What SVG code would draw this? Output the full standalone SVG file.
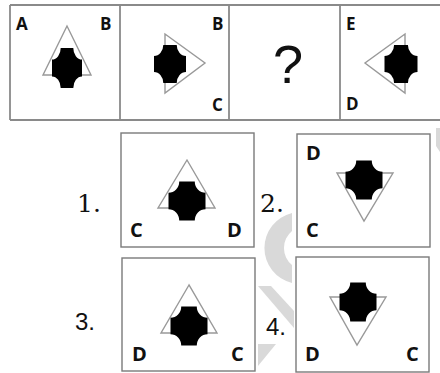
<svg xmlns="http://www.w3.org/2000/svg" width="440" height="373" viewBox="0 0 440 373">
<defs>
<path id="cross" d="M-0.42,-1 L0.42,-1 A0.58,0.58 0 0 0 1,-0.42 L1,0.42 A0.58,0.58 0 0 0 0.42,1 L-0.42,1 A0.58,0.58 0 0 0 -1,0.42 L-1,-0.42 A0.58,0.58 0 0 0 -0.42,-1 Z"/>
</defs>
<style>
.frame{fill:none;stroke:#8a8a8a;stroke-width:1.8}
.box{fill:#fff;stroke:#7a7a7a;stroke-width:1.4}
.tri{fill:none;stroke:#999;stroke-width:1.4;stroke-linejoin:miter}
.cr{fill:#000}
.lbl{font-family:"Open Sans","Liberation Sans",sans-serif;font-weight:700;fill:#111}
.top{font-size:17px}
.opt{font-size:20px}
.numS{font-family:"DejaVu Serif","Liberation Serif",serif;font-size:25px;fill:#111}
.numA{font-family:"Liberation Sans",Arial,sans-serif;font-size:24px;fill:#111}
.wm{fill:#d9d9d9}
</style>
<rect width="440" height="373" fill="#fff"/>
<g id="watermark">
<path class="wm" d="M292,213 A36,36 0 0 0 292,283 L292,265 A22,22 0 0 1 292,231 Z"/>
<polygon class="wm" points="258,286 271,286 294,311 294,328"/>
<polygon class="wm" points="258,344 276,344 258,366"/>
<polygon class="wm" points="436,128 440,128 440,152 436,146"/>
</g>
<g id="top-row">
<line class="frame" x1="10" y1="5" x2="440" y2="5"/>
<line class="frame" x1="10" y1="120" x2="440" y2="120"/>
<line class="frame" x1="10" y1="5" x2="10" y2="120"/>
<line class="frame" x1="120" y1="5" x2="120" y2="120"/>
<line class="frame" x1="229" y1="5" x2="229" y2="120"/>
<line class="frame" x1="340" y1="5" x2="340" y2="120"/>
</g>
<g id="panel1">
<polygon class="tri" points="67,26 43,75 91,75"/>
<use href="#cross" class="cr" transform="translate(67,68) scale(15,20)"/>
<text class="lbl top" x="16" y="30">A</text>
<text class="lbl top" x="100" y="30">B</text>
</g>
<g id="panel2">
<polygon class="tri" points="165,34 205,63 165,93"/>
<use href="#cross" class="cr" transform="translate(170,64) scale(16,19)"/>
<text class="lbl top" x="212" y="30">B</text>
<text class="lbl top" x="212" y="111">C</text>
</g>
<g id="panel3">
<text x="288" y="83" text-anchor="middle" font-family="Liberation Sans, Arial, sans-serif" font-size="54" fill="#111">?</text>
</g>
<g id="panel4">
<polygon class="tri" points="405,34 365,63 405,93"/>
<use href="#cross" class="cr" transform="translate(401,64) scale(16.5,19)"/>
<text class="lbl top" x="346" y="30">E</text>
<text class="lbl top" x="346" y="110">D</text>
</g>
<g id="option1">
<text class="numS" x="77" y="212">1.</text>
<rect class="box" x="121" y="133" width="133" height="114"/>
<polygon class="tri" points="187,160 158,208 215,208"/>
<use href="#cross" class="cr" transform="translate(187,201) scale(18.5,19.5)"/>
<text class="lbl opt" x="130" y="237">C</text>
<text class="lbl opt" x="227" y="237">D</text>
</g>
<g id="option2">
<text class="numS" x="260" y="212">2.</text>
<rect class="box" x="297" y="134" width="133" height="113"/>
<polygon class="tri" points="337,173 393,173 364,221"/>
<use href="#cross" class="cr" transform="translate(364,180) scale(18.5,19.5)"/>
<text class="lbl opt" x="306" y="160">D</text>
<text class="lbl opt" x="306" y="237">C</text>
</g>
<g id="option3">
<text class="numA" x="75" y="330">3.</text>
<rect class="box" x="122" y="258" width="133" height="113"/>
<polygon class="tri" points="189,285 161,333 217,333"/>
<use href="#cross" class="cr" transform="translate(189,326) scale(18.5,19.5)"/>
<text class="lbl opt" x="132" y="361">D</text>
<text class="lbl opt" x="231" y="361">C</text>
</g>
<g id="option4">
<text class="numA" x="266" y="335">4.</text>
<rect class="box" x="296" y="257" width="133" height="115"/>
<polygon class="tri" points="330,297 386,297 357,345"/>
<use href="#cross" class="cr" transform="translate(358,302) scale(18.5,19.5)"/>
<text class="lbl opt" x="305" y="361">D</text>
<text class="lbl opt" x="406" y="361">C</text>
</g>
</svg>
